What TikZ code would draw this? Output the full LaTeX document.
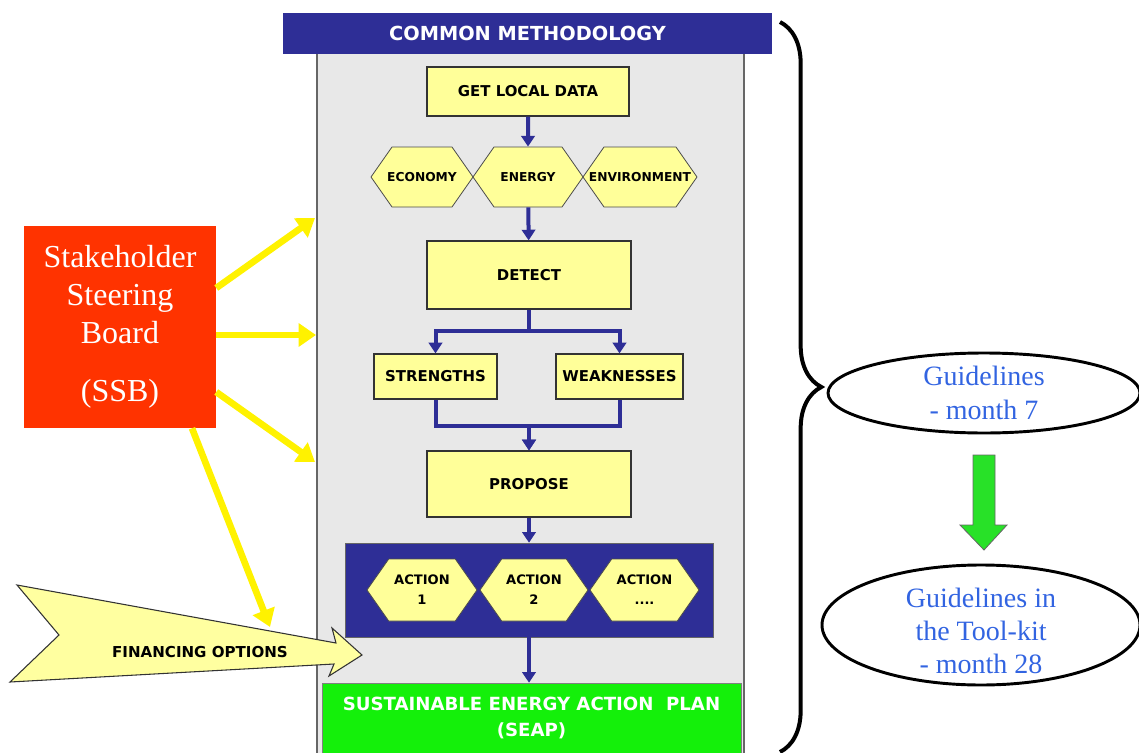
\documentclass[tikz,border=0pt]{standalone}
\usepackage{fontspec}
\setmainfont{Liberation Serif}
\newfontfamily\boxfont{DejaVu Sans}
\usepackage{xcolor}
\usetikzlibrary{shapes,arrows.meta,positioning,calc,decorations.pathreplacing}
\definecolor{methblue}{RGB}{46,46,150}
\definecolor{boxyellow}{RGB}{255,255,153}
\definecolor{panelgray}{RGB}{232,232,232}
\definecolor{ssbred}{RGB}{255,51,0}
\definecolor{seapgreen}{RGB}{20,240,10}
\definecolor{guideblue}{RGB}{50,100,225}
\definecolor{arrowgreen}{RGB}{40,225,40}
\definecolor{finyellow}{RGB}{255,255,160}

\begin{document}
\begin{tikzpicture}[x=0.75pt, y=-0.75pt, >=Triangle]
        % Styles
        \tikzstyle{block} = [rectangle, draw=black!80, fill=boxyellow, line width=0.9pt, text centered, font=\boxfont\bfseries\fontsize{11.2}{13}\selectfont]
        \tikzstyle{hexa} = [signal, signal to=east and west, signal pointer angle=110, draw=black!70, fill=boxyellow, line width=0.6pt, inner ysep=0pt, inner xsep=-12pt, minimum height=45pt, align=center, font=\boxfont\bfseries\fontsize{9.2}{10}\selectfont]
        \tikzstyle{line} = [draw, methblue, line width=3pt, -{Triangle[width=10pt,length=8pt]}]
        \tikzstyle{push} = [draw, yellow, line width=5pt, -{Triangle[width=17pt,length=13pt]}]
        \tikzstyle{guide} = [text=guideblue, align=center, font=\fontsize{21}{25}\selectfont]

        \useasboundingbox (0,0) rectangle (1139,753);

        % Frame of the methodology
        \node [draw=black!60, fill=panelgray, line width=0.8pt, minimum width=320.25pt, minimum height=530.25pt] (panel) at (530.5,406.5) {};
        \node [fill=methblue, minimum width=366.75pt, minimum height=30.75pt, text=white, font=\boxfont\bfseries\fontsize{14.5}{16}\selectfont] (header) at (527.5,33.5) {COMMON METHODOLOGY};

        % Nodes
        \node [block, minimum width=151.5pt, minimum height=36.75pt] (getdata) at (528,91.5) {GET LOCAL DATA};
        \node [hexa, minimum width=76.5pt] (economy) at (422,177) {ECONOMY};
        \node [hexa, minimum width=82.5pt] (energy) at (528,177) {ENERGY};
        \node [hexa, minimum width=85.5pt] (environment) at (640,177) {ENVIRONMENT};
        \node [block, minimum width=153pt, minimum height=51pt] (detect) at (529,275) {DETECT};
        \node [block, minimum width=92.25pt, minimum height=33.75pt] (strengths) at (435.5,376.5) {STRENGTHS};
        \node [block, minimum width=95.25pt, minimum height=33.75pt] (weaknesses) at (619.5,376.5) {WEAKNESSES};
        \node [block, minimum width=153pt, minimum height=49.5pt] (propose) at (529,484) {PROPOSE};
        \node [draw=black!60, fill=methblue, minimum width=276pt, minimum height=70.5pt] (actions) at (529,590) {};
        \node [hexa, minimum width=82.5pt, minimum height=46.5pt, font=\boxfont\bfseries\fontsize{9.8}{15}\selectfont] (act1) at (422,590) {ACTION\\1};
        \node [hexa, minimum width=81pt, minimum height=46.5pt, font=\boxfont\bfseries\fontsize{9.8}{15}\selectfont] (act2) at (534,590) {ACTION\\2};
        \node [hexa, minimum width=81.75pt, minimum height=46.5pt, font=\boxfont\bfseries\fontsize{9.8}{15}\selectfont] (act3) at (644.5,590) {ACTION\\....};
        \node [draw=black!50, fill=seapgreen, minimum width=314.25pt, minimum height=52.5pt, text=white, align=center, font=\boxfont\bfseries\fontsize{13.6}{19.5}\selectfont] (seap) at (531.5,718) {SUSTAINABLE ENERGY ACTION~~PLAN\\(SEAP)};

        % Edges
        \path [line] (getdata) -- (energy);
        \path [line] (energy) -- (detect);
        \path [line] (detect.south) -- ++(0,21) -| (strengths.north);
        \path [line] (detect.south) -- ++(0,21) -| (weaknesses.north);
        \path [line] (strengths.south) -- ++(0,26) -| (propose.north);
        \path [line] (weaknesses.south) -- ++(0,26) -| (propose.north);
        \path [line] (propose) -- (actions);
        \path [line] (actions.south) -- (actions.south |- seap.north);

        % Steering board
        \node [fill=ssbred, minimum width=144pt, minimum height=151.5pt, text=white, align=center, font=\fontsize{24}{28.5}\selectfont] (ssb) at (120,327) {Stakeholder\\Steering\\Board\\[15pt](SSB)};
        \coordinate (in1) at (315,218);
        \coordinate (in2) at (316,335);
        \coordinate (in3) at (315,462);
        \coordinate (in4) at (270,627);

        % Financing options
        \filldraw [fill=finyellow, draw=black!80, line width=0.8pt] (17,585) -- (336,643) -- (332,628) -- (362,655) -- (329,676) -- (334,664) -- (10,682) -- (59,635) -- cycle;
        \node [font=\boxfont\bfseries\fontsize{11.3}{13}\selectfont] (finance) at (200,652) {FINANCING OPTIONS};

        \path [push] ([yshift=29.25pt]ssb.east) -- (in1);
        \path [push] ([yshift=-6pt]ssb.east) -- (in2);
        \path [push] ([yshift=-48.75pt]ssb.east) -- (in3);
        \path [push] ([xshift=54pt]ssb.south) -- (in4);

        % Brace and guidelines
        \draw [decorate, decoration={brace, amplitude=31pt}, line width=3pt] (780,22) -- (780,752);
        \node [guide] (guide1) at (984,393) {Guidelines\\- month 7};
        \node [guide] (guide2) at (981,631) {Guidelines in\\the Tool-kit\\- month 28};
        \draw [line width=2.2pt] (984,393) ellipse (156 and 40);
        \draw [line width=2.2pt] (981,625) ellipse (159 and 60);
        \filldraw [fill=arrowgreen, draw=black!60, line width=0.6pt] (973,455) -- (995,455) -- (995,525) -- (1007,525) -- (984,550) -- (960,525) -- (973,525) -- cycle;

    \end{tikzpicture}
\end{document}
